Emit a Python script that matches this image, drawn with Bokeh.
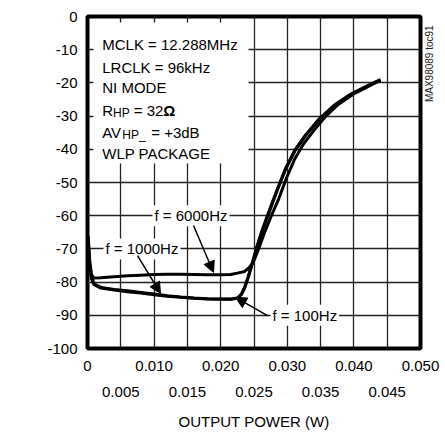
import math
from bokeh.plotting import figure
from bokeh.models import (Range1d, LinearAxis, FixedTicker, Label, Arrow,
                          NormalHead, BoxAnnotation)
from bokeh.embed import file_html
from bokeh.resources import INLINE

FONT = "Liberation Sans"

# ---------------- data ----------------
x_major = [0.0, 0.010, 0.020, 0.030, 0.040, 0.050]
x_major_labels = ["0", "0.010", "0.020", "0.030", "0.040", "0.050"]
x_minor = [0.005, 0.015, 0.025, 0.035, 0.045]
x_minor_labels = ["0.005", "0.015", "0.025", "0.035", "0.045"]
y_ticks = [0, -10, -20, -30, -40, -50, -60, -70, -80, -90, -100]
y_tick_labels = ["0", "-10", "-20", "-30", "-40", "-50", "-60", "-70", "-80", "-90", "-100"]

x_100 = [0.0001, 0.0003, 0.0006, 0.001, 0.002, 0.004, 0.006, 0.008, 0.010, 0.012,
         0.014, 0.016, 0.018, 0.020, 0.0215, 0.0225, 0.0231, 0.0236, 0.0241, 0.0247,
         0.0254, 0.0262, 0.0272, 0.0285, 0.0298, 0.0312, 0.0328, 0.0348, 0.0371,
         0.0396, 0.0420, 0.0440]
thd_100 = [-67, -74, -78.5, -80.5, -81.6, -82.2, -82.6, -83.1, -83.6, -84.1,
           -84.5, -84.8, -85.0, -85.1, -85.1, -84.8, -83.6, -81.5, -78.5, -74.5,
           -69.5, -64.5, -59, -52, -45.5, -40, -35.5, -30.8, -26.6,
           -23.3, -20.9, -19.0]

x_1000 = [0.0001, 0.0003, 0.0006, 0.001, 0.002, 0.004, 0.006, 0.008, 0.010, 0.012,
          0.014, 0.016, 0.018, 0.020, 0.0215, 0.0225, 0.0231, 0.0236, 0.0241, 0.0247,
          0.0254, 0.0262, 0.0272, 0.0285, 0.0298, 0.0312, 0.0328, 0.0348, 0.0371,
          0.0396, 0.0420, 0.0440]
thd_1000 = [-68, -75, -79, -80.8, -81.8, -82.4, -82.9, -83.3, -83.8, -84.3,
            -84.6, -84.9, -85.1, -85.2, -85.2, -84.9, -83.8, -81.8, -78.8, -74.8,
            -69.8, -64.8, -59.3, -52.3, -45.8, -40.3, -35.8, -31.0, -26.8,
            -23.5, -21.0, -19.1]

x_6000 = [0.0001, 0.0003, 0.0006, 0.001, 0.002, 0.004, 0.006, 0.008, 0.010, 0.012,
          0.014, 0.016, 0.018, 0.020, 0.0215, 0.0225, 0.0236, 0.0243, 0.0249, 0.0256,
          0.0265, 0.0275, 0.0287, 0.0299, 0.0311, 0.0324, 0.0340, 0.0357, 0.0377,
          0.0399, 0.0421, 0.0440]
thd_6000 = [-66, -73, -77.8, -78.8, -78.7, -78.4, -78.1, -77.9, -77.7, -77.6,
            -77.6, -77.7, -77.8, -77.8, -77.7, -77.3, -76.8, -75.6, -74.0, -70.5,
            -65.5, -60.5, -55.0, -48.5, -43.0, -38.5, -34.3, -30.2, -26.4,
            -23.4, -21.1, -19.2]

# ---------------- figure ----------------
p = figure(width=445, height=434, x_range=Range1d(0, 0.05), y_range=Range1d(-100, 0),
           output_backend="svg", toolbar_location=None,
           min_border_left=87, min_border_right=25, min_border_top=16, min_border_bottom=86)
p.background_fill_color = "white"
p.border_fill_color = "white"
p.outline_line_color = "black"
p.outline_line_width = 4

# grid every 0.005 / 10 dB
p.xgrid.ticker = FixedTicker(ticks=sorted(x_major + x_minor))
p.ygrid.ticker = FixedTicker(ticks=y_ticks)
for g in (p.xgrid[0], p.ygrid[0]):
    g.grid_line_color = "#222222"
    g.grid_line_width = 1.3

# y axis
ya = p.yaxis[0]
ya.ticker = FixedTicker(ticks=y_ticks)
ya.major_label_overrides = dict(zip(y_ticks, y_tick_labels))
ya.axis_line_color = None
ya.major_tick_line_color = None
ya.minor_tick_line_color = None
ya.major_tick_out = 0
ya.major_tick_in = 0
ya.major_label_standoff = 10
ya.major_label_text_font = FONT
ya.major_label_text_font_size = "15px"
ya.major_label_text_color = "black"

# x axis (first row)
xa = p.xaxis[0]
xa.ticker = FixedTicker(ticks=x_major)
xa.major_label_overrides = dict(zip(x_major, x_major_labels))
xa.axis_line_color = None
xa.major_tick_line_color = None
xa.minor_tick_line_color = None
xa.major_tick_out = 0
xa.major_tick_in = 0
xa.major_label_standoff = 12
xa.major_label_text_font = FONT
xa.major_label_text_font_size = "15px"
xa.major_label_text_color = "black"

# x axis (second row)
xb = LinearAxis(ticker=FixedTicker(ticks=x_minor),
                major_label_overrides=dict(zip(x_minor, x_minor_labels)),
                axis_line_color=None, major_tick_line_color=None,
                minor_tick_line_color=None, major_tick_out=0, major_tick_in=0,
                major_label_standoff=13, major_label_text_font=FONT,
                major_label_text_font_size="15px", major_label_text_color="black",
                axis_label="OUTPUT POWER (W)", axis_label_standoff=13,
                axis_label_text_font=FONT, axis_label_text_font_size="15px",
                axis_label_text_font_style="normal", axis_label_text_color="black")
p.add_layout(xb, "below")

# figure id, drawn as a single vertical label on a bare right-hand axis
WM_Y = -10.8
wm = LinearAxis(ticker=FixedTicker(ticks=[WM_Y]),
                major_label_overrides={WM_Y: "MAX98089 toc91"},
                major_label_orientation=math.pi / 2,
                axis_line_color=None, major_tick_line_color=None,
                minor_tick_line_color=None, major_tick_out=0, major_tick_in=0,
                major_label_standoff=9, major_label_text_font=FONT,
                major_label_text_font_size="10px", major_label_text_color="#222222")
p.add_layout(wm, "right")

# white box behind the condition text
p.add_layout(BoxAnnotation(left=0.0009, right=0.02417, top=-1.8, bottom=-44.3,
                           fill_color="white", fill_alpha=1.0, line_color=None,
                           level="underlay"))

# curves
for xs, ys in ((x_6000, thd_6000), (x_1000, thd_1000), (x_100, thd_100)):
    p.line(xs, ys, line_color="black", line_width=3, line_join="round")

# condition text
tx = 0.00221
def lab(text, x, y, off=0, size="15px", style="normal"):
    p.add_layout(Label(x=x, y=y, x_offset=off, text=text, text_font=FONT,
                       text_font_size=size, text_font_style=style, text_color="black",
                       text_baseline="alphabetic"))

lab("MCLK = 12.288MHz", tx, -8.5)
lab("LRCLK = 96kHz", tx, -15.3)
lab("NI MODE", tx, -21.5)
lab("R", tx, -28.3)
lab("HP", tx, -29.2, off=10.8, size="12px")
lab("= 32", tx, -28.3, off=31.5)
lab("Ω", tx, -28.3, off=61, style="bold")
lab("AV", tx, -34.8)
lab("HP_", tx, -35.7, off=20, size="12px")
lab("= +3dB", tx, -34.8, off=49)
lab("WLP PACKAGE", tx, -41.3)

# curve labels
for text, x, y in (("f = 6000Hz", 0.00976, -60), ("f = 1000Hz", 0.0024, -70),
                   ("f = 100Hz", 0.02748, -90)):
    p.add_layout(Label(x=x, y=y, text=text, text_font=FONT, text_font_size="15px",
                       text_color="black", text_baseline="middle",
                       background_fill_color="white", background_fill_alpha=1.0,
                       padding=2))

# arrows
for xs, ys, xe, ye in ((0.01592, -62.95, 0.01892, -77.1),
                       (0.00751, -72.0, 0.01096, -83.4),
                       (0.02703, -90.1, 0.02222, -84.6)):
    p.add_layout(Arrow(x_start=xs, y_start=ys, x_end=xe, y_end=ye,
                       line_color="black", line_width=1.5,
                       end=NormalHead(size=11, fill_color="black", line_color="black")))

# y axis title
p.add_layout(Label(x=-0.00976, y=-45.5, text="THD+N RATIO (dB)", angle=math.pi / 2,
                   text_font=FONT, text_font_size="16px", text_color="black",
                   text_align="center", text_baseline="middle"))

open("out.html", "w").write(file_html(p, INLINE))
